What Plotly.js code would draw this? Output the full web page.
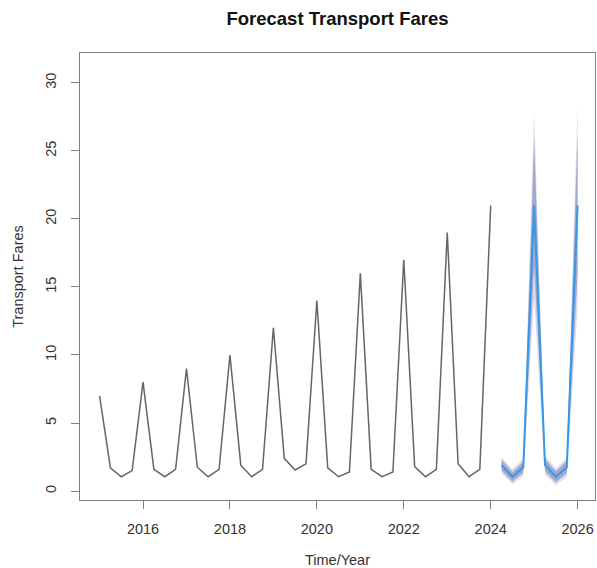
<!DOCTYPE html>
<html>
<head>
<meta charset="utf-8">
<script src="https://cdn.plot.ly/plotly-3.0.1.min.js"></script>
<style>html,body{margin:0;padding:0;background:#fff;}#chart{width:597px;height:568px;}</style>
</head>
<body>
<div id="chart"></div>
<script>
// Historical quarterly observations
const histTime = [2015, 2015.25, 2015.5, 2015.75, 2016, 2016.25, 2016.5, 2016.75,
  2017, 2017.25, 2017.5, 2017.75, 2018, 2018.25, 2018.5, 2018.75,
  2019, 2019.25, 2019.5, 2019.75, 2020, 2020.25, 2020.5, 2020.75,
  2021, 2021.25, 2021.5, 2021.75, 2022, 2022.25, 2022.5, 2022.75,
  2023, 2023.25, 2023.5, 2023.75, 2024];
const histFares = [7, 1.7, 1.05, 1.5, 8, 1.6, 1.05, 1.6,
  9, 1.75, 1.05, 1.6, 10, 1.9, 1.05, 1.6,
  12, 2.4, 1.55, 2.0, 14, 1.7, 1.05, 1.4,
  16, 1.6, 1.05, 1.4, 17, 1.8, 1.05, 1.6,
  19, 2.0, 1.05, 1.6, 21];

// Forecast
const fcTime = [2024.25, 2024.5, 2024.75, 2025, 2025.25, 2025.5, 2025.75, 2026];
const fcMean = [1.9, 1.05, 1.75, 21, 1.9, 1.05, 1.75, 21];
const fcLo80 = [1.5, 0.7, 1.35, 16.5, 1.45, 0.65, 1.3, 16];
const fcHi80 = [2.3, 1.4, 2.15, 25.8, 2.35, 1.45, 2.2, 26.3];
const fcLo95 = [1.3, 0.5, 1.1, 14, 1.2, 0.45, 1.05, 13.5];
const fcHi95 = [2.5, 1.6, 2.4, 27.9, 2.6, 1.65, 2.45, 28.5];

const yTicks = [0, 5, 10, 15, 20, 25, 30];
const xTicks = [2016, 2018, 2020, 2022, 2024, 2026];

function band(lo, hi, color) {
  return {
    x: fcTime.concat(fcTime.slice().reverse()),
    y: hi.concat(lo.slice().reverse()),
    fill: 'toself', fillcolor: color, mode: 'lines',
    line: {width: 0}, hoverinfo: 'skip', showlegend: false
  };
}

const traces = [
  band(fcLo95, fcHi95, '#DCDDEB'),
  band(fcLo80, fcHi80, '#A4A8CC'),
  {x: histTime, y: histFares, mode: 'lines', line: {color: '#666666', width: 1.5}, showlegend: false},
  {x: fcTime, y: fcMean, mode: 'lines', line: {color: '#3399E8', width: 2}, showlegend: false}
];

const font = {family: 'Liberation Sans, Arial, sans-serif', color: '#333333', size: 14.5};

const layout = {
  width: 597, height: 568,
  margin: {l: 80, r: 2, t: 53, b: 68},
  paper_bgcolor: '#ffffff', plot_bgcolor: '#ffffff',
  font: font,
  title: {text: '<b>Forecast Transport Fares</b>', x: 0.5, xref: 'paper', xanchor: 'center',
    y: 0.968, yanchor: 'middle', font: {family: 'Liberation Sans, Arial, sans-serif', size: 18.5, color: '#111111'}},
  xaxis: {
    range: [2014.55, 2026.4], tickvals: xTicks, ticktext: xTicks.map(String),
    showgrid: false, zeroline: false, showline: true, mirror: true, linecolor: '#808080', linewidth: 1,
    ticks: 'outside', ticklen: 8, tickcolor: '#808080', tickfont: font, ticklabelstandoff: 8,
    title: {text: 'Time/Year', font: font, standoff: 19}
  },
  yaxis: {
    range: [-0.66, 32.2], tickvals: yTicks, ticktext: yTicks.map(String), tickangle: -90,
    showgrid: false, zeroline: false, showline: true, mirror: true, linecolor: '#808080', linewidth: 1,
    ticks: 'outside', ticklen: 8, tickcolor: '#808080', tickfont: font, ticklabelstandoff: 9,
    title: {text: 'Transport Fares', font: font, standoff: 16}
  }
};

Plotly.newPlot('chart', traces, layout, {staticPlot: true, displayModeBar: false});
</script>
</body>
</html>
